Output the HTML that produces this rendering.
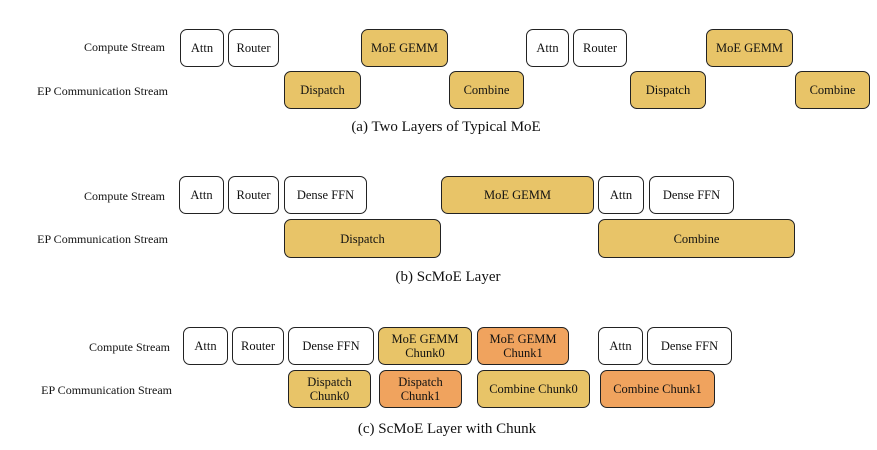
<!DOCTYPE html>
<html><head><style>
body{margin:0;width:877px;height:450px;background:#fff;position:relative;font-family:"Liberation Serif",serif;overflow:hidden}
.b{position:absolute;box-sizing:border-box;border:1.4px solid #222;border-radius:7px;display:flex;align-items:center;justify-content:center;text-align:center;font-size:12.5px;line-height:14px;color:#111;background:#fff}
.g{background:#E8C468}.o{background:#F0A35E}
.l{position:absolute;font-size:12px;color:#111;text-align:right;width:170px}
.c{position:absolute;font-size:15px;color:#111;width:400px;text-align:center}
</style></head><body>
<div class="l" style="left:-5px;top:40px">Compute Stream</div>
<div class="l" style="left:-2px;top:84px">EP Communication Stream</div>
<div class="b" style="left:180px;top:29px;width:44px;height:38px">Attn</div>
<div class="b" style="left:228px;top:29px;width:51px;height:38px">Router</div>
<div class="b g" style="left:361px;top:29px;width:87px;height:38px">MoE GEMM</div>
<div class="b" style="left:526px;top:29px;width:43px;height:38px">Attn</div>
<div class="b" style="left:573px;top:29px;width:54px;height:38px">Router</div>
<div class="b g" style="left:706px;top:29px;width:87px;height:38px">MoE GEMM</div>
<div class="b g" style="left:284px;top:71px;width:77px;height:38px">Dispatch</div>
<div class="b g" style="left:449px;top:71px;width:75px;height:38px">Combine</div>
<div class="b g" style="left:630px;top:71px;width:76px;height:38px">Dispatch</div>
<div class="b g" style="left:795px;top:71px;width:75px;height:38px">Combine</div>
<div class="c" style="left:246px;top:119px">(a) Two Layers of Typical MoE</div>

<div class="l" style="left:-5px;top:189px">Compute Stream</div>
<div class="l" style="left:-2px;top:232px">EP Communication Stream</div>
<div class="b" style="left:179px;top:176px;width:45px;height:38px">Attn</div>
<div class="b" style="left:228px;top:176px;width:51px;height:38px">Router</div>
<div class="b" style="left:284px;top:176px;width:83px;height:38px">Dense FFN</div>
<div class="b g" style="left:441px;top:176px;width:153px;height:38px">MoE GEMM</div>
<div class="b" style="left:598px;top:176px;width:46px;height:38px">Attn</div>
<div class="b" style="left:649px;top:176px;width:85px;height:38px">Dense FFN</div>
<div class="b g" style="left:284px;top:219px;width:157px;height:39px">Dispatch</div>
<div class="b g" style="left:598px;top:219px;width:197px;height:39px">Combine</div>
<div class="c" style="left:248px;top:269px">(b) ScMoE Layer</div>

<div class="l" style="left:0px;top:340px">Compute Stream</div>
<div class="l" style="left:2px;top:383px">EP Communication Stream</div>
<div class="b" style="left:183px;top:327px;width:45px;height:38px">Attn</div>
<div class="b" style="left:232px;top:327px;width:52px;height:38px">Router</div>
<div class="b" style="left:288px;top:327px;width:86px;height:38px">Dense FFN</div>
<div class="b g" style="left:378px;top:327px;width:94px;height:38px">MoE GEMM<br>Chunk0</div>
<div class="b o" style="left:477px;top:327px;width:92px;height:38px">MoE GEMM<br>Chunk1</div>
<div class="b" style="left:598px;top:327px;width:45px;height:38px">Attn</div>
<div class="b" style="left:647px;top:327px;width:85px;height:38px">Dense FFN</div>
<div class="b g" style="left:288px;top:370px;width:83px;height:38px">Dispatch<br>Chunk0</div>
<div class="b o" style="left:379px;top:370px;width:83px;height:38px">Dispatch<br>Chunk1</div>
<div class="b g" style="left:477px;top:370px;width:113px;height:38px">Combine Chunk0</div>
<div class="b o" style="left:600px;top:370px;width:115px;height:38px">Combine Chunk1</div>
<div class="c" style="left:247px;top:421px">(c) ScMoE Layer with Chunk</div>
</body></html>
